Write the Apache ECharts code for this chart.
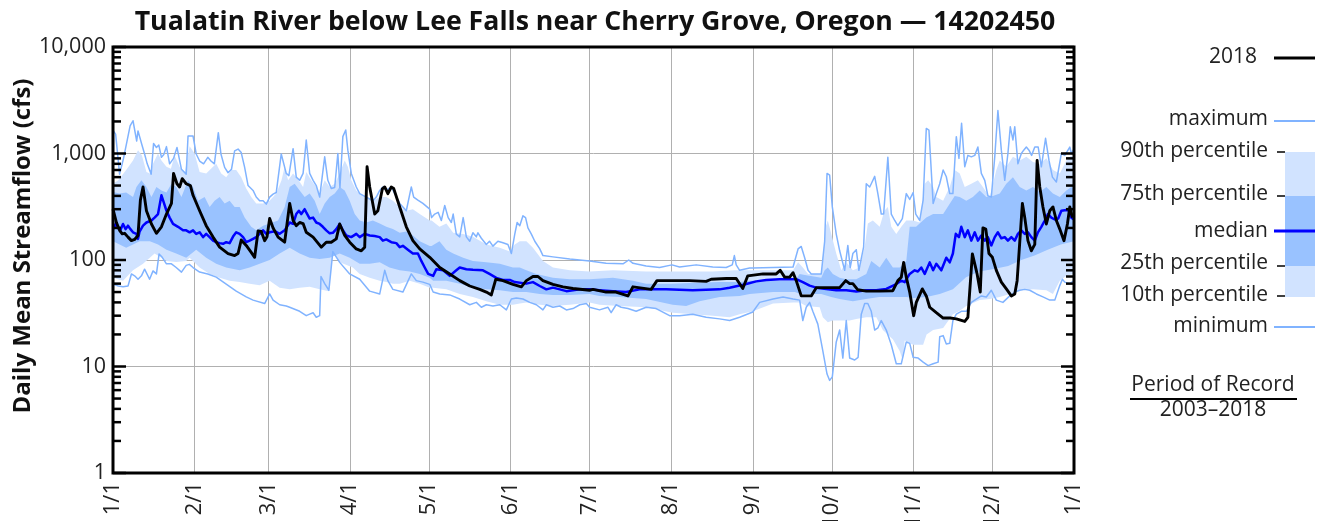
<!DOCTYPE html>
<html>
<head>
<meta charset="utf-8">
<script src="https://cdn.jsdelivr.net/npm/echarts@6/dist/echarts.min.js"></script>
<style>
  html, body { margin: 0; padding: 0; background: #fff; }
  #chart { width: 1325px; height: 521px; }
</style>
</head>
<body>
<div id="chart"></div>
<script>
// day of year (0 = Jan 1) , daily mean streamflow in cfs
var maxPts = [[0,1650],[1,1520],[2.5,640],[4,900],[6.5,1820],[7.6,2030],[9,1310],[9.5,1630],[11,1200],[12,990],[13,800],[14.5,640],[15.4,1240],[16.5,1140],[17.4,1200],[18.4,920],[19.3,980],[20.3,1160],[21.5,800],[23,900],[24.3,1140],[26,710],[27.8,640],[28.5,1460],[30.4,1460],[31.6,990],[32.9,850],[34.4,800],[36,920],[37.2,850],[38.5,800],[40,1570],[41,990],[42.4,740],[43.7,660],[45,710],[46.2,1060],[47.5,1100],[48.7,1020],[50,740],[51.3,500],[53.2,450],[54.4,390],[55.7,360],[57,360],[58.2,335],[59.5,390],[60.8,415],[62,430],[63.9,990],[64.6,1000],[65.8,650],[66.8,620],[68.4,1110],[69.6,600],[70.9,560],[72.2,650],[73.4,1340],[74.7,650],[76,560],[77.2,500],[78.5,390],[80.4,930],[81.6,560],[82.9,470],[84.2,480],[85.4,1000],[86.2,480],[87.3,1440],[88.4,1660],[89.2,1075],[90.5,650],[92.4,485],[93.7,420],[96.2,390],[98.7,360],[100,390],[101.3,450],[102.5,485],[103.8,450],[105.7,485],[106.3,485],[108.9,340],[111.4,290],[113.3,485],[114.2,390],[115.8,365],[117.7,340],[120.3,300],[121,250],[122.2,270],[123.5,280],[124.7,235],[126,325],[127.3,250],[128.5,225],[129.2,270],[130.4,175],[131.7,165],[133,250],[134.2,165],[135.5,150],[136.7,180],[138,165],[138.6,180],[139.9,160],[141.8,140],[143,150],[144.3,135],[146.2,150],[148.1,145],[150,140],[151.3,115],[152.6,175],[153.5,225],[154.5,210],[155.7,260],[156.7,250],[157.6,200],[158.9,175],[160.2,150],[162.1,127],[163.3,110],[167.1,107],[173.5,102],[181,98],[187.3,93],[193.7,92],[195.9,100],[197.5,93],[202.5,88],[207.6,85],[212.3,90],[215.2,86],[221.5,90],[227.8,86],[232.9,85],[235.2,90],[236,110],[236.7,90],[238,80],[241.8,84],[243,84],[250.7,85],[258.3,86],[260.2,127],[261.4,134],[262.7,105],[264,80],[265.2,74],[269,74],[270.3,150],[271.2,650],[272.2,625],[273.2,315],[274.7,175],[276,122],[277.9,80],[279.1,137],[280,85],[281,115],[282.3,125],[283.3,80],[285.1,133],[286.1,520],[287.4,485],[288,520],[289.3,610],[290.5,420],[291.8,270],[292.7,270],[294.3,920],[295.6,270],[296.9,235],[298.1,210],[299.8,245],[301.3,420],[302.6,370],[303.9,430],[304.9,270],[306.4,235],[307.7,365],[308.9,1720],[309.9,1660],[311.5,340],[312.7,420],[314,520],[315.3,700],[316.5,605],[317.8,420],[319,420],[320.3,1440],[321.3,900],[322.3,1920],[323.5,750],[324.7,960],[326,930],[327.3,960],[328.5,1150],[329.8,650],[331.1,560],[332.3,400],[333.6,390],[334.9,930],[336.1,2530],[337.4,1075],[338.7,560],[339.9,1000],[340.8,1780],[341.8,1340],[342.5,1780],[343.7,800],[345,1000],[345.9,1075],[346.9,1150],[347.9,1075],[348.9,960],[350.1,1150],[351.4,1150],[352.6,750],[354.2,1390],[355.5,860],[356.8,600],[358.3,540],[360.2,1000],[361.5,960],[363.4,1150],[364,1000],[365,1100]];

var p90Pts = [[0,520],[2,560],[5,700],[7.6,860],[9.5,1075],[11,960],[12.7,670],[14,650],[15.2,800],[17.1,1000],[18.4,860],[20.3,750],[22,720],[23.4,960],[25.3,750],[27.2,650],[29.1,1170],[31,1000],[32.9,670],[35.4,650],[38,750],[39.2,800],[41.1,650],[43,600],[45,700],[46.8,700],[48.7,600],[50.6,470],[52.5,390],[54.4,340],[57,340],[59.5,360],[62,420],[64,560],[65.2,750],[66.5,560],[68.4,650],[70.5,560],[72.2,485],[73.4,670],[75.3,560],[77.2,485],[78.5,420],[80.4,560],[82.3,485],[84.2,520],[86.1,650],[88,860],[89.2,750],[90.5,560],[92.4,450],[93.7,420],[96.2,390],[98.7,360],[101.3,390],[103.8,390],[106.3,360],[108.9,315],[111.4,290],[113.9,300],[116.5,270],[120.3,235],[121,235],[124,205],[126.6,220],[129.2,180],[133,175],[136.7,165],[141.8,140],[146.9,130],[150.7,120],[152.6,140],[154.5,150],[157,150],[159.5,130],[163.3,98],[167.1,85],[173.5,80],[181,78],[189.9,80],[202.5,78],[215,78],[227.8,78],[236,80],[241.8,80],[250.7,80],[258.3,80],[260.2,95],[262,85],[264,74],[269,74],[270.7,205],[271.5,235],[272.8,175],[274.7,115],[276.6,80],[278.5,95],[281,80],[283.6,85],[285.5,133],[286.7,220],[288.6,235],[291.2,205],[293,290],[294.3,315],[295.6,205],[297.5,175],[299.4,205],[301.3,235],[303.9,235],[306.4,225],[308.3,520],[309.6,560],[311.5,485],[312.7,390],[315.3,360],[317.8,485],[319.7,700],[321.6,650],[323.5,485],[326,520],[328.5,560],[330.4,485],[333,390],[335.5,700],[336.8,860],[339.3,750],[341.8,930],[344.4,860],[346.9,930],[349.4,830],[352,800],[354.5,900],[357,700],[359.6,650],[362.1,860],[364,960],[365,900]];

var p75Pts = [[0,435],[2.5,420],[5,430],[7.6,390],[8.9,485],[10.8,560],[12.7,485],[14.6,390],[16.5,485],[18.4,450],[20.3,430],[22.2,520],[24,485],[26,390],[28.5,560],[30.4,485],[32.3,360],[34.8,390],[36.7,315],[38.6,360],[40.5,390],[42.4,340],[44.3,360],[46.2,315],[48.1,315],[50,250],[52.5,205],[54.4,190],[57,210],[59.5,220],[62.7,235],[65.2,315],[67.1,485],[69,520],[70.9,450],[72.8,390],[74.7,420],[76.6,360],[78.5,270],[80.4,340],[82.3,390],[84.2,420],[86.1,485],[88,450],[89.9,360],[91.8,270],[93.7,235],[96.2,225],[98.7,235],[101.3,220],[103.8,205],[106.3,195],[108.9,180],[111.4,185],[113.9,170],[116.5,150],[120.3,135],[121,135],[124,150],[126.6,125],[129.2,115],[133,105],[136.7,98],[141.8,95],[146.9,92],[151.9,85],[154.5,85],[157,80],[160.8,74],[167.1,68],[173.5,66],[181,66],[189.9,68],[197.5,64],[202.5,60],[212,60],[221.5,61],[230.4,62],[238,62],[241.8,64],[250.7,64],[259,64],[260.8,74],[263.3,72],[269,68],[270.3,80],[271.5,85],[273.4,74],[276,68],[278.5,66],[282.3,66],[286.1,74],[288,98],[291.2,85],[293.7,105],[296.2,85],[298.8,85],[301.3,98],[302.6,205],[305,205],[308.9,250],[311.5,270],[315.3,270],[319.7,400],[321.6,390],[324.1,360],[326.6,390],[329.2,450],[331.7,390],[334.2,400],[336.8,420],[339.3,520],[341.8,600],[344.4,485],[346.9,450],[349.4,485],[352,435],[354.5,485],[357,420],[359.6,390],[362.1,450],[364,485],[365,470]];

var p25Pts = [[0,150],[2.5,140],[5,130],[7.6,140],[10.1,150],[14,150],[17.1,140],[20.3,125],[24,115],[27.8,105],[31.6,125],[35.4,105],[39.2,92],[43,85],[48.1,80],[51.9,85],[55.7,92],[59.5,100],[63.3,115],[67.1,130],[70.9,115],[74.7,105],[78.5,102],[82.3,105],[86.1,115],[89.9,105],[93.7,92],[97.5,92],[101.3,95],[105,85],[108.9,80],[112.7,78],[116.5,74],[120.3,68],[121.6,64],[126.6,64],[131.7,60],[136.7,55],[141.8,53],[146.9,52],[151.9,50],[157,50],[162.1,48],[167.1,47],[173.5,47],[181,48],[184.8,46],[192.4,45],[202.5,43],[212.6,38],[217.7,37],[222.8,41],[230.4,45],[238,46],[241.8,48],[250.7,50],[259,50],[261,48],[269,48],[272.8,45],[276,43],[281,41],[286,43],[291,45],[297.5,45],[301.3,45],[304,44],[309,45],[314,48],[319,53],[324,69],[329,78],[334,82],[340,88],[345,100],[350,110],[355,125],[360,140],[365,150]];

var p10Pts = [[0,68],[3.8,64],[7.6,80],[11.4,92],[15.8,115],[18.4,105],[20.3,98],[24,96],[27.8,98],[29.1,105],[32.9,85],[36.7,74],[40.5,68],[44.3,64],[48.1,62],[51.9,60],[55.7,58],[59.5,64],[63.3,55],[67.1,53],[70.9,55],[74.7,56],[78.5,53],[82,51],[83.5,115],[86.1,95],[91.1,85],[93.7,74],[97.5,68],[101.3,64],[103.8,62],[106.3,60],[108.9,60],[112.7,64],[116.5,60],[120.3,55],[121.6,55],[126.6,53],[131.7,48],[136.7,45],[141.8,41],[146.9,38],[151.9,38],[154.5,39],[157,40],[162.1,38],[167.1,37],[173.5,38],[181,40],[184.8,38],[192.4,37],[202.5,36],[212.6,32],[220.2,31],[227.8,30],[234.2,29],[238,31],[243,33],[250.7,39],[258.3,40],[260.8,40],[263.3,37],[268.4,36],[269.6,29],[271.5,26],[273.4,27],[279.8,27],[282.3,28],[286.1,29],[289.9,29],[292.4,22],[296.2,18],[298.8,14],[300,11.4],[300.7,17.5],[303.9,16],[307.7,16],[309,20],[311.5,22],[315.3,23],[319,31],[321.3,33],[324.1,37],[329.2,42],[333,43],[336.8,45],[340.6,48],[344.4,52],[349.4,53],[354.5,52],[357,48],[359.6,64],[362.1,71],[365,74]];

var minPts = [[0,59.5],[2,57],[3.8,56],[5.7,57],[7,74],[8.2,71],[9.5,66],[10.8,71],[12,82],[13.9,66],[15.2,79],[16.5,74],[17.5,114],[18.7,106],[20.3,92],[22.2,92],[24,85],[26,77],[27.8,89],[29,91],[30.4,85],[32.9,77],[36,74],[39.2,69],[43,59.5],[46.8,51],[50.6,45],[53.2,42],[57.6,39],[59.5,48],[60.8,42],[63.3,38],[65.8,37],[67.1,36],[70.9,33],[73.4,30],[74.7,31],[76,32],[77.2,29],[78.5,30],[79,70],[80.4,60],[82,52],[83.5,120],[86.1,95],[89.9,74],[93.7,66],[97.5,51],[101.3,48],[103.2,80],[104.4,64],[106.3,53],[110.1,50],[113.3,74],[115.2,64],[117.7,62],[120.3,59],[121.6,50],[124.1,48],[127.9,47],[131.7,43],[135.5,38],[138,40],[139.9,36],[141.8,38],[144.3,37],[146.9,38],[149.4,34],[151.3,43],[153.2,44],[155.7,43],[158.3,40],[160.8,38],[163.3,34],[164.6,38],[167.1,36],[169.7,37],[172.2,34],[174.7,35],[177.3,38],[179.8,39],[181,36],[184.8,34],[188,36],[189.2,32],[191.1,38],[193,36],[195.6,35],[198.7,33],[202.5,36],[206.3,35],[211.4,30],[215.2,30],[220.2,31],[225.3,29],[230.4,28],[234.2,27],[238,29],[243,32.5],[245.6,40],[250.7,43],[254.5,45],[258.3,43],[260.8,42],[262,27],[263.3,36],[264.6,40],[265.8,33],[267.7,25],[269.6,14],[271.2,8.5],[272.2,7.4],[273.2,8],[274.7,17],[276,22],[277.2,12],[278.5,27],[279.8,12],[281.7,11.5],[283,12.2],[284.2,31],[285.5,39],[286.7,39],[288,33],[289.3,22],[290.5,23],[291.8,27],[293.7,22],[295.6,16],[297.5,10.6],[299.4,10.6],[300.1,10.6],[301.3,17],[302.6,16.5],[303.9,12.2],[305.8,12],[307.7,11],[309.6,10.2],[311.5,10.6],[313.4,11],[314,19],[315.3,19.5],[316.5,16.3],[317.8,16.5],[319,27],[320.3,31],[322.2,33],[324.1,33],[326,40],[327.9,43],[329.8,46],[331.7,45],[333.6,52],[335.5,42],[338,40],[340.6,46],[342.5,50],[344.4,52],[346.3,53],[348.2,52],[350.7,48],[353.2,45],[355.8,42],[357.7,42],[359.6,57.5],[360.6,66],[361.5,62],[363.4,60],[365,64]];

var medianPts = [[0,195],[1,218],[1.9,200],[2.8,190],[3.8,218],[4.8,195],[5.7,210],[6.6,195],[7.6,182],[8.9,176],[9.5,158],[10.1,185],[11.4,210],[12.7,225],[14.6,235],[15.8,250],[17.1,270],[18.4,405],[19.4,340],[20.3,290],[21.5,250],[22.8,218],[24.7,205],[26.6,190],[27.8,190],[29.1,182],[30.4,190],[31.6,176],[32.9,182],[34.2,164],[35.4,176],[36.7,164],[38,152],[39.2,147],[40.5,144],[41.8,142],[43,147],[44.3,144],[45.6,166],[46.8,182],[48.1,176],[49.4,164],[50.6,147],[51.9,152],[53.2,158],[54.4,164],[55.7,176],[57,190],[58.2,176],[59.5,182],[61.6,186],[63.3,176],[65.2,190],[67.1,225],[68.4,218],[69.6,270],[70.6,290],[71.5,270],[72.8,300],[73.4,280],[74.7,245],[76,250],[77.2,225],[78.5,218],[79.7,205],[81,190],[82.3,178],[83.5,180],[84.8,195],[86.1,218],[87.3,190],[88.6,170],[90.5,164],[92.4,176],[93.7,164],[95.6,176],[97.5,170],[99.4,168],[101.3,164],[102.5,152],[103.8,156],[105.7,147],[107.6,144],[108.9,132],[110.1,136],[112,125],[113.9,115],[115.8,115],[117.1,98],[118.4,85],[119.7,74],[121.6,71],[122.8,82],[125.4,80],[127.9,71],[130.4,80],[131.7,85],[134.2,82],[136.7,81],[140.5,80],[143,74],[145.6,68],[148.1,65],[150.7,65],[152.6,62],[157,60],[159.5,62],[162.1,57],[164.6,53],[167.1,55],[169.7,53],[172.2,51],[177.3,53],[181,53],[184.8,52],[189.9,51],[194.9,50],[200,53],[210.1,53],[220.2,52],[230.4,53],[234.2,55],[238,57.5],[240.5,59.5],[244.3,63],[248.1,65],[253.2,66],[259.5,66],[262,62],[264.6,57.5],[267.1,55],[270.9,53.5],[274.7,52],[278.5,52],[282.3,50.5],[286.1,52],[289.9,52],[293.7,53.5],[297.5,59.5],[299.4,64],[300.7,62],[302.6,74],[304.5,80],[305.7,78],[307,85],[308.3,74],[310.2,95],[311.5,80],[312.7,92],[314.6,80],[316.5,105],[317.8,95],[319,115],[320.1,176],[321.3,164],[322.2,205],[323.5,164],[324.7,190],[326,152],[327.3,182],[328.5,152],[329.8,170],[331.1,152],[332.3,164],[333.6,137],[334.9,164],[336.1,182],[337.4,160],[338.7,164],[339.9,152],[341.2,164],[342.5,152],[343.7,176],[345,190],[346.3,176],[347.5,182],[348.8,164],[350.1,152],[351.3,182],[352.6,205],[353.9,235],[355.1,270],[356.4,250],[357.7,240],[359,245],[360.2,290],[362.1,295],[363.4,290],[364,250],[365,240]];

var y2018Pts = [[0,300],[1.3,225],[2.5,190],[3.5,176],[4.4,178],[5.7,164],[7,152],[8.2,156],[9.5,170],[10.4,365],[11.4,485],[12.7,290],[14.6,218],[16.5,178],[18.4,205],[20.3,270],[22.2,340],[23,650],[24.3,520],[25.3,485],[26.3,580],[27.8,520],[29.4,500],[30.4,405],[32.9,290],[35.4,210],[38,164],[40.5,132],[43.7,115],[46.2,110],[47.5,115],[48.7,154],[50.6,137],[52.5,118],[53.8,106],[55.1,187],[56.3,185],[57.6,152],[58.5,165],[59.5,245],[60.8,200],[62.7,164],[65.2,147],[67.1,340],[68.4,235],[69.6,210],[70.9,225],[72.2,220],[73.4,182],[76,164],[79.1,132],[81,147],[82.9,147],[84.8,158],[86.1,218],[88,170],[89.9,147],[92.4,127],[94.3,122],[95.6,132],[96.5,750],[97.5,485],[99.4,270],[100.6,290],[102.3,465],[103.2,485],[104.4,420],[105.7,485],[106.6,470],[108.9,315],[111.4,205],[113.9,152],[116.5,127],[120.3,106],[124.1,85],[127.9,74],[131.7,64],[135.5,57],[139.3,53],[141.8,50],[143.7,47],[145.4,66],[148.1,64],[151.9,59],[155.1,56],[157,64],[159.5,70],[161.4,70],[163.3,64],[167.1,59],[170.9,56],[174.7,54],[181,52],[182.3,53],[187.3,50],[191,50],[195.6,46],[197.5,56],[204.4,53],[206.6,64],[213,64],[219,64],[225.3,63],[227.2,66],[233,67],[236.7,67],[239.2,54],[241.1,71],[241.8,74],[246.9,74],[251.9,74],[253.4,80],[255.1,69],[257,69],[258.3,76],[259.5,64],[261.4,46],[265.2,46],[267.1,55],[276,55],[278.3,64],[279.8,60],[281,60],[282.9,52.5],[286.1,51],[291.2,51],[296.2,51.5],[298.1,64],[299.4,69],[300.3,95],[301.3,69],[302.6,50],[304.1,30],[305.1,40],[307.4,53.5],[308.9,46],[310.2,36],[312.7,32],[315.3,28.5],[318,28.5],[320.3,28],[323.5,26.5],[324.7,29],[326.4,114],[328.2,74],[329.4,50],[330.4,200],[331.5,195],[332.7,115],[334,106],[335.5,80],[337.4,62],[339.3,53.5],[341.2,46],[342.5,48],[343.4,64],[345.4,340],[346.3,250],[347.5,152],[348.8,122],[350.1,140],[351,860],[352,485],[353.2,315],[354.5,218],[355.8,290],[357,315],[358.3,235],[359.6,195],[361.2,152],[362.5,218],[363.4,315],[364.4,250]];

var T0 = Date.UTC(2018, 0, 1);
var DAY = 86400000;
var FONT = '"Open Sans", "Noto Sans", sans-serif';

var cLight = '#d1e3ff', cMid = '#99c2ff', cEdge = '#80b3ff', cMedian = '#0000ff';

var toXY = function(list){
    return list.map(function(p){ return [T0 + p[0] * DAY, p[1]]; });
};

// polygon between two curves, positioned through the axes
var bandSeries = function(upper, lower, color){
    return {
        type: 'custom', silent: true, z: 1, clip: true,
        data: [[T0, 100]],
        renderItem: function(params, api){
            var pts = [];
            toXY(upper).forEach(function(p){ pts.push(api.coord(p)); });
            toXY(lower).reverse().forEach(function(p){ pts.push(api.coord(p)); });
            return { type: 'polygon', shape: { points: pts }, style: { fill: color } };
        }
    };
};

var lineSeries = function(list, color, width, z){
    return {
        type: 'line', data: toXY(list), showSymbol: false, symbol: 'none',
        silent: true, z: z, clip: true,
        lineStyle: { color: color, width: width, join: 'round' }
    };
};

var chart = echarts.init(document.getElementById('chart'), null, { renderer: 'canvas' });

chart.setOption({
    animation: false,
    useUTC: true,
    backgroundColor: '#fff',
    title: {
        text: 'Tualatin River below Lee Falls near Cherry Grove, Oregon \u2014 14202450',
        left: 590, top: 4, textAlign: 'center',
        textStyle: { fontFamily: FONT, fontWeight: 'bold', fontSize: 26.7, color: '#111' }
    },
    grid: { left: 113, right: 251, top: 47, bottom: 48, outerBoundsMode: 'none', containLabel: false },
    xAxis: {
        type: 'time',
        min: T0, max: T0 + 365 * DAY,
        splitNumber: 12,
        axisLine: { show: false },
        axisTick: { show: false },
        splitLine: { show: true, lineStyle: { color: '#b0b0b0', width: 1 } },
        axisLabel: {
            rotate: 90, margin: 9, fontFamily: FONT, fontSize: 22, color: '#222',
            hideOverlap: false, showMinLabel: true, showMaxLabel: true,
            formatter: function(v){
                var d = new Date(v);
                return (d.getUTCMonth() + 1) + '/' + d.getUTCDate();
            }
        }
    },
    yAxis: {
        type: 'log', logBase: 10, min: 1, max: 10000,
        axisLine: { show: false },
        axisTick: { show: false },
        splitLine: { show: true, lineStyle: { color: '#b0b0b0', width: 1 } },
        axisLabel: {
            margin: 7, fontFamily: FONT, fontSize: 21.5, color: '#222',
            formatter: function(v){ return Number(v).toLocaleString('en-US'); }
        }
    },
    series: [
        bandSeries(p90Pts, p10Pts, cLight),
        bandSeries(p75Pts, p25Pts, cMid),
        lineSeries(maxPts, cEdge, 1.5, 3),
        lineSeries(minPts, cEdge, 1.5, 3),
        lineSeries(medianPts, cMedian, 2.5, 4),
        lineSeries(y2018Pts, '#000', 2.9, 5)
    ]
});

// frame, log ticks, axis name and the legend
var gl = 113, gr = 1074, gt = 47, gb = 473;
var graphics = [{
    type: 'rect', z: 100, silent: true,
    shape: { x: gl, y: gt, width: gr - gl, height: gb - gt },
    style: { fill: null, stroke: '#000', lineWidth: 3 }
}, {
    type: 'text', z: 100, silent: true, x: 23, y: 246, rotation: Math.PI / 2,
    style: { text: 'Daily Mean Streamflow (cfs)', font: 'bold 24px ' + FONT, fill: '#111', align: 'center', verticalAlign: 'middle' }
}];
for (var e = 0; e < 4; e++) {
    for (var m = 1; m <= 10; m++) {
        if (m === 10 && e < 3) continue;
        var v = m * Math.pow(10, e);
        var y = chart.convertToPixel({ yAxisIndex: 0 }, v);
        var len = (m === 1 || m === 10) ? 13 : 8;
        graphics.push({ type: 'line', z: 100, silent: true, shape: { x1: gl, y1: y, x2: gl + len, y2: y }, style: { stroke: '#000', lineWidth: 2.5 } });
        graphics.push({ type: 'line', z: 100, silent: true, shape: { x1: gr - len, y1: y, x2: gr, y2: y }, style: { stroke: '#000', lineWidth: 2.5 } });
    }
}

var legText = function(txt, x, y, align){
    return { type: 'text', z: 100, silent: true, x: x, y: y,
        style: { text: txt, font: '21px ' + FONT, fill: '#222', align: align || 'right', verticalAlign: 'middle' } };
};
var legLine = function(x1, x2, y, color, w){
    return { type: 'line', z: 100, silent: true, shape: { x1: x1, y1: y, x2: x2, y2: y }, style: { stroke: color, lineWidth: w } };
};
graphics.push(
    legText('2018', 1257, 57), legLine(1274, 1315, 58, '#000', 3),
    legText('maximum', 1268, 119), legLine(1274, 1315, 121, cEdge, 2),
    { type: 'rect', z: 100, silent: true, shape: { x: 1285, y: 152, width: 30, height: 44 }, style: { fill: cLight } },
    { type: 'rect', z: 100, silent: true, shape: { x: 1285, y: 196, width: 30, height: 70 }, style: { fill: cMid } },
    { type: 'rect', z: 100, silent: true, shape: { x: 1285, y: 266, width: 30, height: 31 }, style: { fill: cLight } },
    legText('90th percentile', 1268, 151), legLine(1277, 1285, 152, '#000', 1.5),
    legText('75th percentile', 1268, 194), legLine(1277, 1285, 196, '#000', 1.5),
    legText('median', 1268, 231), legLine(1274, 1315, 231, cMedian, 3),
    legText('25th percentile', 1268, 263), legLine(1277, 1285, 266, '#000', 1.5),
    legText('10th percentile', 1268, 295), legLine(1277, 1285, 296, '#000', 1.5),
    legText('minimum', 1268, 326), legLine(1274, 1315, 327, cEdge, 2),
    legText('Period of Record', 1213, 385, 'center'),
    legLine(1130, 1297, 399, '#000', 2),
    legText('2003\u20132018', 1213, 410, 'center')
);
chart.setOption({ graphic: graphics });
</script>
</body>
</html>
